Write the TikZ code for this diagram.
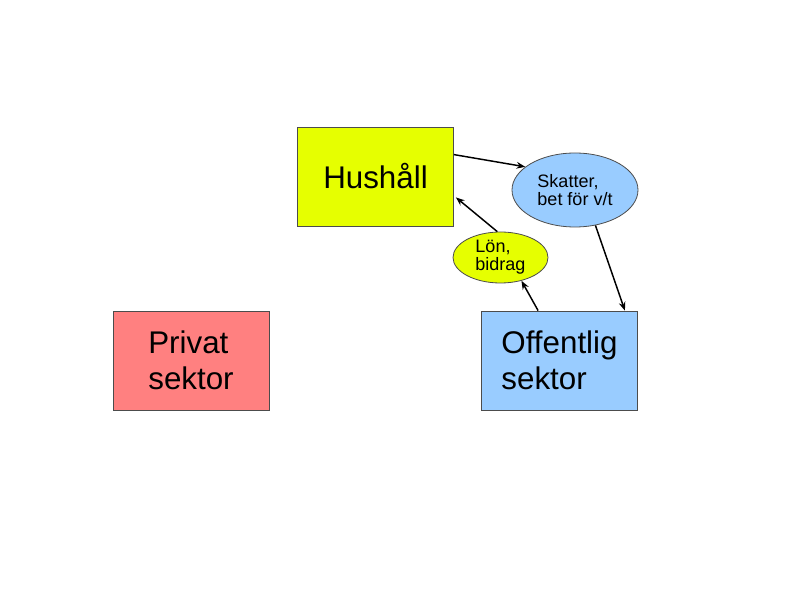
\documentclass[tikz,border=0pt]{standalone}
\usepackage{fontspec}
\setmainfont{Liberation Sans}
\usetikzlibrary{shapes.geometric,arrows.meta,calc}
\definecolor{hyellow}{RGB}{230,255,0}
\definecolor{ppink}{RGB}{255,128,128}
\definecolor{oblue}{RGB}{153,204,255}
\begin{document}
\begin{tikzpicture}[x=0.75pt,y=-0.75pt,
  box/.style={draw=black!70,line width=0.6pt,inner sep=0pt,align=left,
    minimum width=0.75pt*156,minimum height=0.75pt*99,
    font=\fontsize{23.5pt}{27pt}\selectfont},
  oval/.style={ellipse,draw=black!70,line width=0.6pt,inner sep=0pt,align=left,
    font=\fontsize{13.5pt}{13.5pt}\selectfont},
  conn/.style={line width=1.1pt,-{Stealth[length=6.5pt,width=5pt]}}]
\useasboundingbox (0,0) rectangle (794,595);
\node[box,fill=hyellow] (hus) at (375.5,176.5) {Hushåll};
\node[box,fill=ppink] (priv) at (191,360.5) {Privat\\sektor};
\node[box,fill=oblue] (off) at (559.5,360.5) {Offentlig\\sektor};
\node[oval,fill=oblue,minimum width=0.75pt*126,minimum height=0.75pt*74] (sk) at (575,190) {Skatter,\\bet för v/t};
\node[oval,fill=hyellow,minimum width=0.75pt*95,minimum height=0.75pt*51] (lon) at (500.5,257.5) {Lön,\\bidrag};
\draw[conn] ($(hus.north east)+(0,28)$) -- (sk.155);
\draw[conn] (lon.97) -- ($(hus.south east)+(2,-29)$);
\draw[conn] (sk.-60) -- ($(off.north east)+(-13,0)$);
\draw[conn] ($(off.north west)+(57,0)$) -- (lon.-48);
\end{tikzpicture}
\end{document}
